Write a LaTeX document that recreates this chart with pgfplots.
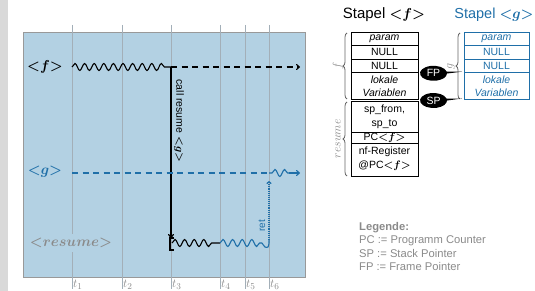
\documentclass[border=0pt]{standalone}
\usepackage{pgfplots}
\pgfplotsset{compat=1.18}
\usepackage{fontspec}
\setmainfont{Liberation Sans}
\usetikzlibrary{decorations.pathmorphing,decorations.pathreplacing,shapes.callouts,arrows.meta}
\definecolor{bgblue}{HTML}{B3D1E3}
\definecolor{gblue}{HTML}{1F6FA8}
\definecolor{tgray}{HTML}{8A8A8A}
\definecolor{lgray}{HTML}{A3AFB8}
\newcommand{\cellf}{\fontsize{10.5}{12}\selectfont}
\newcommand{\bmath}[1]{{\boldmath$#1$}}
\begin{document}
\begin{tikzpicture}
\path[use as bounding box] (0,0) rectangle (535pt,291pt);
\fill[gray!30] (0,0) rectangle (8pt,291pt);
\begin{axis}[
  at={(164pt,136.5pt)}, anchor=center,
  scale only axis, width=282pt, height=245pt,
  xmin=23, xmax=305, ymin=32, ymax=277, y dir=reverse,
  axis background/.style={fill=bgblue},
  axis line style={draw=gray!80, line width=0.8pt},
  xtick=\empty, ytick=\empty,
  clip=false,
]
% time lines
\addplot[lgray, line width=0.7pt] coordinates {(72,25) (72,289)};
\addplot[lgray, line width=0.7pt] coordinates {(122,25) (122,289)};
\addplot[lgray, line width=0.7pt] coordinates {(171,25) (171,289)};
\addplot[lgray, line width=0.7pt] coordinates {(220,25) (220,289)};
\addplot[lgray, line width=0.7pt] coordinates {(245,25) (245,289)};
\addplot[lgray, line width=0.7pt] coordinates {(269,25) (269,289)};
\node[anchor=west, text=tgray, inner sep=0pt, font=\fontsize{12.5}{13}\selectfont] at (73,285) {$t_1$};
\node[anchor=west, text=tgray, inner sep=0pt, font=\fontsize{12.5}{13}\selectfont] at (123,285) {$t_2$};
\node[anchor=west, text=tgray, inner sep=0pt, font=\fontsize{12.5}{13}\selectfont] at (172,285) {$t_3$};
\node[anchor=west, text=tgray, inner sep=0pt, font=\fontsize{12.5}{13}\selectfont] at (221,285) {$t_4$};
\node[anchor=west, text=tgray, inner sep=0pt, font=\fontsize{12.5}{13}\selectfont] at (246,285) {$t_5$};
\node[anchor=west, text=tgray, inner sep=0pt, font=\fontsize{12.5}{13}\selectfont] at (270,285) {$t_6$};
% f row
\addplot[black, line width=1.1pt, decorate, decoration={snake, segment length=9.6pt, amplitude=3.5pt, post length=5pt}] coordinates {(72,67) (171,67)};
\addplot[black, line width=1.1pt, dash pattern=on 6pt off 4.5pt, -{To[length=4pt,width=6pt]}] coordinates {(171,67) (300,67)};
\addplot[black, line width=1.2pt, -{To[length=4pt,width=6pt]}] coordinates {(171,67) (171,238)};
\node[rotate=-90, font=\cellf] at (179,121) {call resume \bmath{{<}g{>}}};
% g row
\addplot[gblue, line width=1.1pt, dash pattern=on 6pt off 4.5pt] coordinates {(72,173) (269,173)};
\addplot[gblue, line width=1.1pt, decorate, decoration={snake, segment length=9.6pt, amplitude=3.5pt, pre length=3pt}] coordinates {(269,173) (290,173)};
\addplot[gblue, line width=1.1pt, -{To[length=4pt,width=6pt]}] coordinates {(289,173) (300,173)};
% resume row
\addplot[black, line width=1.2pt] coordinates {(174,238) (170,238) (170,250) (174,250)};
\addplot[black, line width=1.1pt, decorate, decoration={snake, segment length=9.6pt, amplitude=3.5pt, post length=6pt}] coordinates {(172,243) (220,243)};
\addplot[gblue, line width=1.1pt, decorate, decoration={snake, segment length=9.6pt, amplitude=3.5pt}] coordinates {(220,243) (262,243)};
\addplot[gblue, line width=1.1pt, smooth] coordinates {(262,243) (265,247) (268,247) (269,243) (269,239)};
\addplot[gblue, densely dotted, line width=1.1pt, -{To[length=3pt,width=5pt]}] coordinates {(269,240) (269,181)};
\node[rotate=90, text=gblue, font=\fontsize{10}{12}\selectfont] at (262,226) {ret};
% labels
\node[font=\fontsize{14}{16}\selectfont] at (45,67) {\bmath{{<}f{>}}};
\node[font=\fontsize{14}{16}\selectfont, text=gblue] at (45,172) {\bmath{{<}g{>}}};
\node[font=\fontsize{14}{16}\selectfont, text=tgray, fill=bgblue, inner ysep=4pt, inner xsep=1pt] at (71,243) {\bmath{{<}resume{>}}};
\end{axis}
% right panel
\begin{scope}[x=1pt,y=-1pt,yshift=291pt]
\node[font=\fontsize{15}{17}\selectfont] at (384,15) {Stapel \bmath{{<}f{>}}};
\node[font=\fontsize{14.5}{17}\selectfont, text=gblue] at (494,15) {Stapel \bmath{{<}g{>}}};
% f table
\draw[line width=0.8pt] (351,32.5) rectangle (418,99.5);
\draw[line width=0.8pt] (351,45.5)--(418,45.5) (351,59)--(418,59) (351,72.7)--(418,72.7);
\node[font=\cellf\itshape] at (384.5,39) {param};
\node[font=\cellf] at (384.5,52.3) {NULL};
\node[font=\cellf] at (384.5,66) {NULL};
\node[font=\cellf\itshape] at (384.5,79.5) {lokale};
\node[font=\cellf\itshape] at (384.5,92.5) {Variablen};
% resume table
\draw[line width=0.8pt] (351,101.5) rectangle (418,176);
\draw[line width=0.8pt] (351,132.5)--(418,132.5) (351,143)--(418,143);
\node[font=\cellf] at (384.5,110) {sp\_from,};
\node[font=\cellf] at (384.5,124) {sp\_to};
\node[font=\cellf] at (384.5,138) {PC\bmath{{<}f{>}}};
\node[font=\cellf] at (384.5,152) {nf-Register};
\node[font=\cellf] at (384.5,166) {@PC\bmath{{<}f{>}}};
% g table
\begin{scope}[gblue]
\draw[line width=0.8pt] (464,32.5) rectangle (529,99.5);
\draw[line width=0.8pt] (464,45.5)--(529,45.5) (464,59)--(529,59) (464,72.7)--(529,72.7);
\node[font=\cellf\itshape] at (496.5,39) {param};
\node[font=\cellf] at (496.5,52.3) {NULL};
\node[font=\cellf] at (496.5,66) {NULL};
\node[font=\cellf\itshape] at (496.5,79.5) {lokale};
\node[font=\cellf\itshape] at (496.5,92.5) {Variablen};
\end{scope}
% braces
\draw[decorate, decoration={brace, amplitude=4pt}, gray!80!black, line width=0.8pt] (347,99) -- (347,33);
\draw[decorate, decoration={brace, amplitude=4pt}, gray!80!black, line width=0.8pt] (347,176) -- (347,102);
\draw[decorate, decoration={brace, amplitude=4pt}, gray!80!black, line width=0.8pt] (460,99) -- (460,33);
\node[rotate=90, text=tgray, font=\fontsize{12}{14}\selectfont] at (338,66) {$f$};
\node[rotate=90, text=tgray, font=\fontsize{12}{14}\selectfont] at (338,139) {$resume$};
\node[rotate=90, text=tgray, font=\fontsize{12}{14}\selectfont] at (451,66) {$g$};
% legend
\node[anchor=base west, text=tgray, font=\fontsize{11.2}{12}\selectfont, inner sep=0pt] at (359,231) {\textbf{Legende:}};
\node[anchor=base west, text=tgray, font=\fontsize{11.2}{12}\selectfont, inner sep=0pt] at (359,244) {PC := Programm Counter};
\node[anchor=base west, text=tgray, font=\fontsize{11.2}{12}\selectfont, inner sep=0pt] at (359,257.5) {SP := Stack Pointer};
\node[anchor=base west, text=tgray, font=\fontsize{11.2}{12}\selectfont, inner sep=0pt] at (359,271) {FP := Frame Pointer};
\end{scope}
% callouts (canvas coordinates)
\node[ellipse callout, fill=black, text=white, minimum width=27pt, minimum height=15pt, inner sep=0pt, font=\cellf, callout absolute pointer={(462pt,219.3pt)}] at (433.5pt,217.7pt) {FP};
\node[ellipse callout, fill=black, text=white, minimum width=27pt, minimum height=15pt, inner sep=0pt, font=\cellf, callout absolute pointer={(462pt,192.5pt)}] at (433.5pt,190.5pt) {SP};
\end{tikzpicture}
\end{document}
